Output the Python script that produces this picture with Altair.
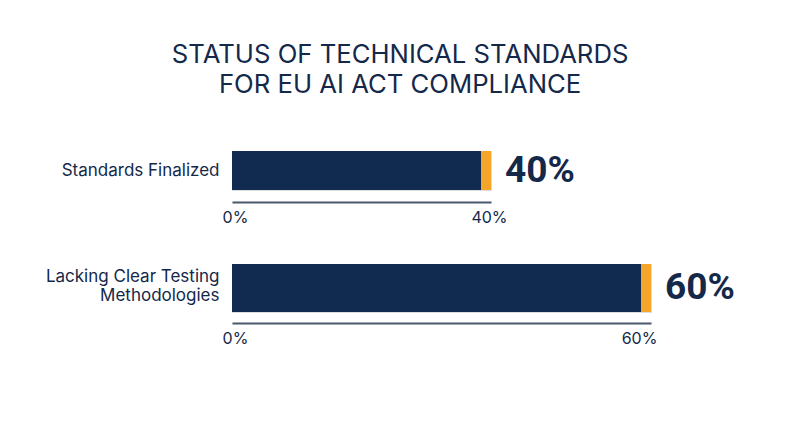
import altair as alt
import pandas as pd

title_lines = ["STATUS OF TECHNICAL STANDARDS", "FOR EU AI ACT COMPLIANCE"]
categories = ["Standards Finalized", "Lacking Clear Testing\nMethodologies"]
values = [40, 60]

NAVY = "#112a4f"
ORANGE = "#f5a62a"
TEXT = "#14284a"
AXIS = "#4a586e"
FONT = "Inter"

panel_widths = [259, 419]
panel_heights = [39, 48]
axis_offsets = [12, 11]
label_offsets = [0, -11]
tick_label_shift = [-2, -12]


def make_panel(i):
    df = pd.DataFrame({"label": [categories[i]], "value": [values[i]]})
    v = values[i]
    x = alt.X(
        "value:Q",
        scale=alt.Scale(domain=[0, v], nice=False, zero=True),
        axis=alt.Axis(
            title=None,
            values=[0, v],
            labelExpr="datum.value + '%'",
            ticks=False,
            grid=False,
            domainColor=AXIS,
            domainWidth=2,
            offset=axis_offsets[i],
            labelFontSize=16,
            labelColor=TEXT,
            labelPadding=7,
            labelFont=FONT,
            labelFlush=False,
            labelOverlap=False,
            labelOffset=alt.expr(f"datum.value === 0 ? 3 : {tick_label_shift[i]}"),
        ),
    )
    y = alt.Y(
        "label:N",
        scale=alt.Scale(paddingInner=0, paddingOuter=0),
        axis=alt.Axis(
            title=None,
            ticks=False,
            domain=False,
            labelFontSize=17,
            labelColor=TEXT,
            labelPadding=13,
            labelFont=FONT,
            labelLineHeight=19,
            labelLimit=300,
            labelOffset=label_offsets[i],
            labelExpr="split(datum.label, '\\n')",
        ),
    )
    base = alt.Chart(df)
    cap = base.mark_bar(color=ORANGE).encode(x=x, y=y, x2=alt.datum(0))
    body = base.mark_bar(color=NAVY, xOffset=-10).encode(x=x, y=y, x2=alt.datum(0))
    txt = base.transform_calculate(t="datum.value + '%'").mark_text(
        align="left", baseline="middle", dx=14, fontSize=37, fontWeight="bold",
        font="Roboto", color=TEXT,
    ).encode(x=x, y=y, text="t:N")
    return alt.layer(cap, body, txt).properties(
        width=panel_widths[i], height=panel_heights[i]
    )


chart = alt.vconcat(make_panel(0), make_panel(1), spacing=37).properties(
    title=alt.TitleParams(
        text=title_lines,
        fontSize=25.7,
        font=FONT,
        fontWeight="normal",
        color=TEXT,
        lineHeight=30,
        anchor="middle",
        offset=52,
        dx=10,
    ),
    padding={"left": 36, "top": 33, "right": 20, "bottom": 20},
).configure_view(stroke=None).configure(background="white")

chart.save("out.html", embed_options={"renderer": "svg", "actions": False})
